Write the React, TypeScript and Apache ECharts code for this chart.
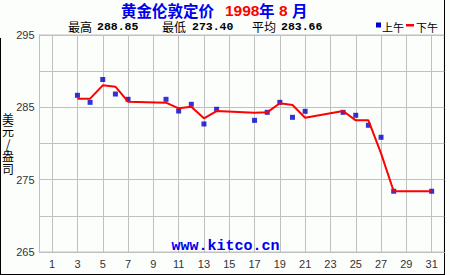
import React, { useEffect, useRef } from "react";
import * as echarts from "echarts";

const days = [3, 4, 5, 6, 7, 10, 11, 12, 13, 14, 17, 18, 19, 20, 21, 24, 25, 26, 27, 28, 31];
const amPrices = [286.66, 285.69, 288.85, 286.84, 286.11, 286.11, 284.49, 285.42, 282.7, 284.73, 283.2, 284.31, 285.69, 283.62, 284.45, 284.31, 283.9, 282.52, 280.86, 273.4, 273.4];
const pmPrices = [286.2, 286.2, 288.04, 287.86, 285.78, 285.64, 284.86, 285.09, 283.48, 284.49, 284.26, 284.31, 285.56, 285.32, 283.57, 284.49, 283.2, 283.2, 278.64, 273.4, 273.4];
const xTicks = [1, 3, 5, 7, 9, 11, 13, 15, 17, 19, 21, 23, 25, 27, 29, 31];
const yLabels = [265, 275, 285, 295];
const stats = [
  { label: "最高", value: "288.85" },
  { label: "最低", value: "273.40" },
  { label: "平均", value: "283.66" },
];
const legendNames = ["上午", "下午"];
const titleParts = ["黄金伦敦定价", "1998", "年", "8", "月"];

const BLUE = "#0000c8";
const TBLUE = "#0000ee";
const RED = "#ff0000";
const GRID = "#c0c0c0";

export default function App() {
  const ref = useRef<HTMLDivElement>(null);
  useEffect(() => {
    if (!ref.current) return;
    const chart = echarts.init(ref.current, null, { renderer: "svg" });
    const graphics: any[] = [];
    // title
    const tX = [121, 225, 259, 279, 292];
    const tColors = [TBLUE, RED, TBLUE, RED, TBLUE];
    const tFonts = ['"Noto Sans CJK SC"', '"Liberation Sans"', '"Noto Sans CJK SC"', '"Liberation Sans"', '"Noto Sans CJK SC"'];
    titleParts.forEach((t, i) => {
      graphics.push({
        type: "text", x: tX[i], y: 10,
        style: { text: t, font: "bold 15.5px " + tFonts[i], fill: tColors[i], verticalAlign: "middle" },
      });
    });
    const statX = [[68, 97], [162, 192], [252, 281]];
    stats.forEach((s, i) => {
      graphics.push({
        type: "text", x: statX[i][0], y: 26.5,
        style: { text: s.label, font: '12px "Noto Sans CJK SC"', fill: "#000", verticalAlign: "middle" },
      });
      graphics.push({
        type: "text", x: statX[i][1], y: 26.5,
        style: { text: s.value, font: 'bold 11.5px "Liberation Mono"', fill: "#000", verticalAlign: "middle" },
      });
    });
    // legend
    graphics.push({ type: "rect", shape: { x: 376, y: 22.5, width: 5, height: 5 }, style: { fill: BLUE } });
    graphics.push({ type: "text", x: 382, y: 26.5, style: { text: legendNames[0], font: '11px "Noto Sans CJK SC"', fill: "#000", verticalAlign: "middle" } });
    graphics.push({ type: "rect", shape: { x: 406, y: 24, width: 8, height: 2.5 }, style: { fill: RED } });
    graphics.push({ type: "text", x: 416, y: 26.5, style: { text: legendNames[1], font: '11px "Noto Sans CJK SC"', fill: "#000", verticalAlign: "middle" } });
    // y axis name
    graphics.push({
      type: "text", x: 8, y: 112,
      style: { text: "美\n元\n/\n盎\n司", font: '12px "Noto Sans CJK SC"', fill: "#000", align: "center", verticalAlign: "top", lineHeight: 12.5 },
    });
    // watermark
    graphics.push({
      type: "text", x: 225.5, y: 246, z: 10,
      style: { text: "www.kitco.cn", font: 'bold 15px "Liberation Mono"', fill: TBLUE, align: "center", verticalAlign: "middle" },
    });
    // frame
    graphics.push({ type: "line", shape: { x1: 444.5, y1: 0, x2: 444.5, y2: 275 }, style: { stroke: "#000", lineWidth: 1 } });
    graphics.push({ type: "line", shape: { x1: 0, y1: 274.5, x2: 445, y2: 274.5 }, style: { stroke: "#000", lineWidth: 1 } });
    graphics.push({ type: "line", shape: { x1: 0.5, y1: 38, x2: 0.5, y2: 275 }, style: { stroke: "#000", lineWidth: 1 } });

    chart.setOption({
      animation: false,
      backgroundColor: "#fcfefc",
      grid: { left: 39.5, top: 35, right: 5.7, bottom: 23, show: true, borderColor: GRID, borderWidth: 1, backgroundColor: "#fcfefc" },
      xAxis: {
        type: "value", min: 0, max: 32,
        axisLine: { show: true, lineStyle: { color: GRID } },
        axisTick: { show: false, customValues: xTicks },
        axisLabel: { customValues: xTicks, color: "#333", fontFamily: '"Liberation Sans"', fontSize: 11, margin: 6 },
        splitLine: { show: true, lineStyle: { color: GRID, width: 1 } },
      },
      yAxis: {
        type: "value", min: 265, max: 295, interval: 5,
        axisLine: { show: true, lineStyle: { color: GRID } },
        axisTick: { show: false },
        axisLabel: {
          color: "#333", fontFamily: '"Liberation Sans"', fontSize: 11, margin: 5,
          formatter: (v: number) => (yLabels.includes(v) ? String(v) : ""),
        },
        splitLine: { show: true, lineStyle: { color: GRID, width: 1 } },
      },
      series: [
        {
          name: legendNames[0], type: "scatter", symbol: "rect", symbolSize: 5,
          itemStyle: { color: BLUE }, z: 2,
          data: days.map((d, i) => [d, amPrices[i]]),
        },
        {
          name: legendNames[1], type: "line", showSymbol: false, symbol: "none",
          lineStyle: { color: RED, width: 2 }, z: 3,
          data: days.map((d, i) => [d, pmPrices[i]]),
        },
      ],
      graphic: graphics,
    });
    return () => chart.dispose();
  }, []);
  return <div ref={ref} style={{ position: "fixed", left: 0, top: 0, width: 450, height: 275 }} />;
}
